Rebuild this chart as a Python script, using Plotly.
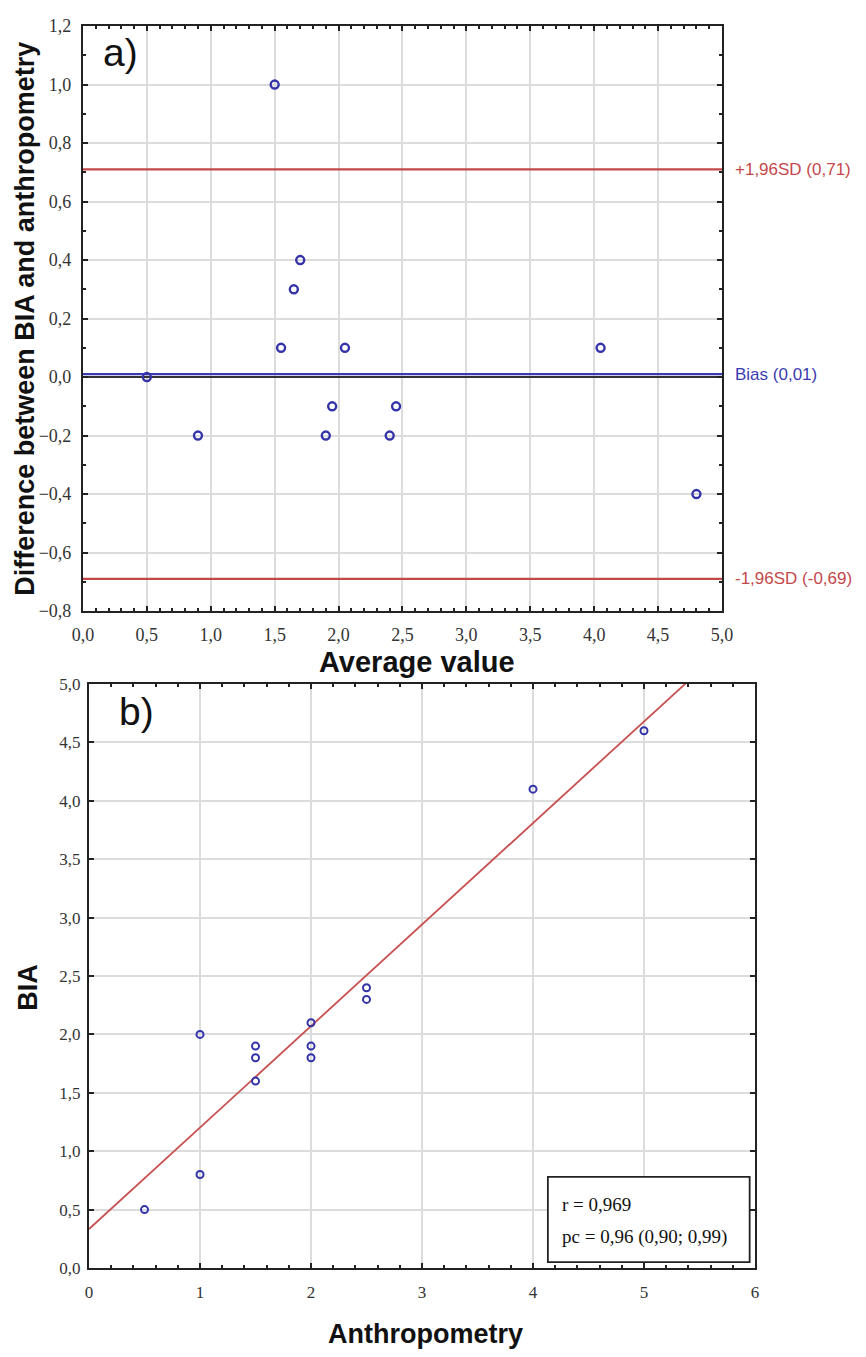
import numpy as np
import plotly.graph_objects as go


# Panel b) raw measurements (read off the scatter)
anthropometry = [0.5, 1.0, 1.0, 1.5, 1.5, 1.5, 2.0, 2.0, 2.0, 2.5, 2.5, 4.0, 5.0]
bia = [0.5, 0.8, 2.0, 1.6, 1.8, 1.9, 1.8, 1.9, 2.1, 2.3, 2.4, 4.1, 4.6]

# Panel a) Bland-Altman values
average_value = [0.5, 0.9, 1.5, 1.55, 1.65, 1.7, 1.9, 1.95, 2.05, 2.4, 2.45, 4.05, 4.8]
difference = [0.0, -0.2, 1.0, 0.1, 0.3, 0.4, -0.2, -0.1, 0.1, -0.2, -0.1, 0.1, -0.4]

# reference lines in panel a)
limit_values = [0.71, 0.01, -0.69]
limit_labels = ['+1,96SD (0,71)', 'Bias (0,01)', '-1,96SD (-0,69)']
limit_colors = ['#c4484a', '#3b3bb0', '#c4484a']

stats_lines = ['r = 0,969', 'pc = 0,96 (0,90; 0,99)']

marker_blue = '#3434a8'
grid = '#dcdcdc'
frame = '#222222'
tick_font = dict(family='Liberation Serif', size=18, color='#333333')
title_font = dict(family='Liberation Sans', size=27, color='#111111')

fig = go.Figure()

# --- panel a) ---
fig.add_trace(go.Scatter(x=[0, 5], y=[0, 0], mode='lines',
                         line=dict(color='#333333', width=2),
                         xaxis='x', yaxis='y', hoverinfo='skip'))
for v, c in zip(limit_values, limit_colors):
    fig.add_trace(go.Scatter(x=[0, 5], y=[v, v], mode='lines',
                             line=dict(color=c, width=2.4),
                             xaxis='x', yaxis='y', hoverinfo='skip'))
fig.add_trace(go.Scatter(x=average_value, y=difference, mode='markers',
                         marker=dict(symbol='circle-open', size=8, color=marker_blue,
                                     line=dict(width=2.4)),
                         xaxis='x', yaxis='y'))

# --- panel b) ---
slope, intercept = np.polyfit(anthropometry, bia, 1)
fit_x = np.array([0, 6])
fig.add_trace(go.Scatter(x=fit_x, y=intercept + slope * fit_x, mode='lines',
                         line=dict(color='#c85050', width=1.8),
                         xaxis='x2', yaxis='y2', hoverinfo='skip'))
fig.add_trace(go.Scatter(x=anthropometry, y=bia, mode='markers',
                         marker=dict(symbol='circle-open', size=7, color=marker_blue,
                                     line=dict(width=2)),
                         xaxis='x2', yaxis='y2'))

axis_common = dict(showgrid=True, gridcolor=grid, gridwidth=1.5, zeroline=False,
                   showline=True, linecolor=frame, linewidth=2, mirror='ticks',
                   ticks='inside', ticklen=5, tickcolor=frame, tickwidth=1.5,
                   tickfont=tick_font, automargin=False)

fig.update_layout(
    width=866, height=1357,
    margin=dict(l=0, r=0, t=0, b=0),
    paper_bgcolor='white', plot_bgcolor='white',
    showlegend=False,
    separators=',.',
    xaxis=dict(axis_common, domain=[0.0958, 0.8337], anchor='y',
               range=[0, 5], dtick=0.5, tickformat='.1f', ticklabelstandoff=6,
               minor=dict(ticks='inside', ticklen=3, dtick=0.1, tickcolor=frame, showgrid=False)),
    yaxis=dict(axis_common, domain=[0.5497, 0.9808], anchor='x',
               range=[-0.8, 1.2], dtick=0.2, tickformat='.1f', ticklabelstandoff=6,
               minor=dict(ticks='inside', ticklen=3, dtick=0.1, tickcolor=frame, showgrid=False)),
    xaxis2=dict(axis_common, domain=[0.1028, 0.8718], anchor='y2',
                range=[0, 6], dtick=1, ticklabelstandoff=8,
                tickfont=dict(tick_font, size=17),
                minor=dict(ticks='inside', ticklen=3, dtick=0.2, tickcolor=frame, showgrid=False)),
    yaxis2=dict(axis_common, domain=[0.0656, 0.4959], anchor='x2',
                range=[0, 5], dtick=0.5, tickformat='.1f', ticklabelstandoff=3,
                tickfont=dict(tick_font, size=17)),
)

# labels for the reference lines, right of panel a)
for v, lab, c in zip(limit_values, limit_labels, limit_colors):
    fig.add_annotation(x=0.846, xref='paper', y=v, yref='y', text=lab,
                       showarrow=False, xanchor='left', yanchor='middle',
                       font=dict(family='Liberation Sans', size=17, color=c))

# axis titles
fig.add_annotation(x=0.029, xref='paper', y=0.7652, yref='paper', textangle=-90,
                   text='<b>Difference between BIA and anthropometry</b>', showarrow=False,
                   xanchor='center', yanchor='middle', font=title_font)
fig.add_annotation(x=0.481, xref='paper', y=0.512, yref='paper',
                   text='<b>Average value</b>', showarrow=False,
                   xanchor='center', yanchor='middle', font=dict(title_font, size=29))
fig.add_annotation(x=0.032, xref='paper', y=0.2727, yref='paper', textangle=-90,
                   text='<b>BIA</b>', showarrow=False,
                   xanchor='center', yanchor='middle', font=title_font)
fig.add_annotation(x=0.491, xref='paper', y=0.017, yref='paper',
                   text='<b>Anthropometry</b>', showarrow=False,
                   xanchor='center', yanchor='middle', font=title_font)

# panel letters
fig.add_annotation(x=0.028, xref='x domain', y=0.995, yref='y domain', text='a)',
                   showarrow=False, xanchor='left', yanchor='top',
                   font=dict(family='Liberation Sans', size=39, color='#111111'))
fig.add_annotation(x=0.042, xref='x2 domain', y=0.993, yref='y2 domain', text='b)',
                   showarrow=False, xanchor='left', yanchor='top',
                   font=dict(family='Liberation Sans', size=39, color='#111111'))

# statistics box in panel b)
fig.add_shape(type='rect', xref='x2 domain', yref='y2 domain',
              x0=0.689, x1=0.992, y0=0.010, y1=0.156,
              line=dict(color=frame, width=1.8), fillcolor='white')
for yy, line_text in zip([0.108, 0.053], stats_lines):
    fig.add_annotation(x=0.707, xref='x2 domain', y=yy, yref='y2 domain', text=line_text,
                       showarrow=False, xanchor='left', yanchor='middle', align='left',
                       font=dict(family='Liberation Serif', size=19, color='#111111'))

# drop the default 8px page margin so the figure sits flush in the window
fig.write_html("out.html", config={'displayModeBar': False},
               post_script="document.body.style.margin='0';")
